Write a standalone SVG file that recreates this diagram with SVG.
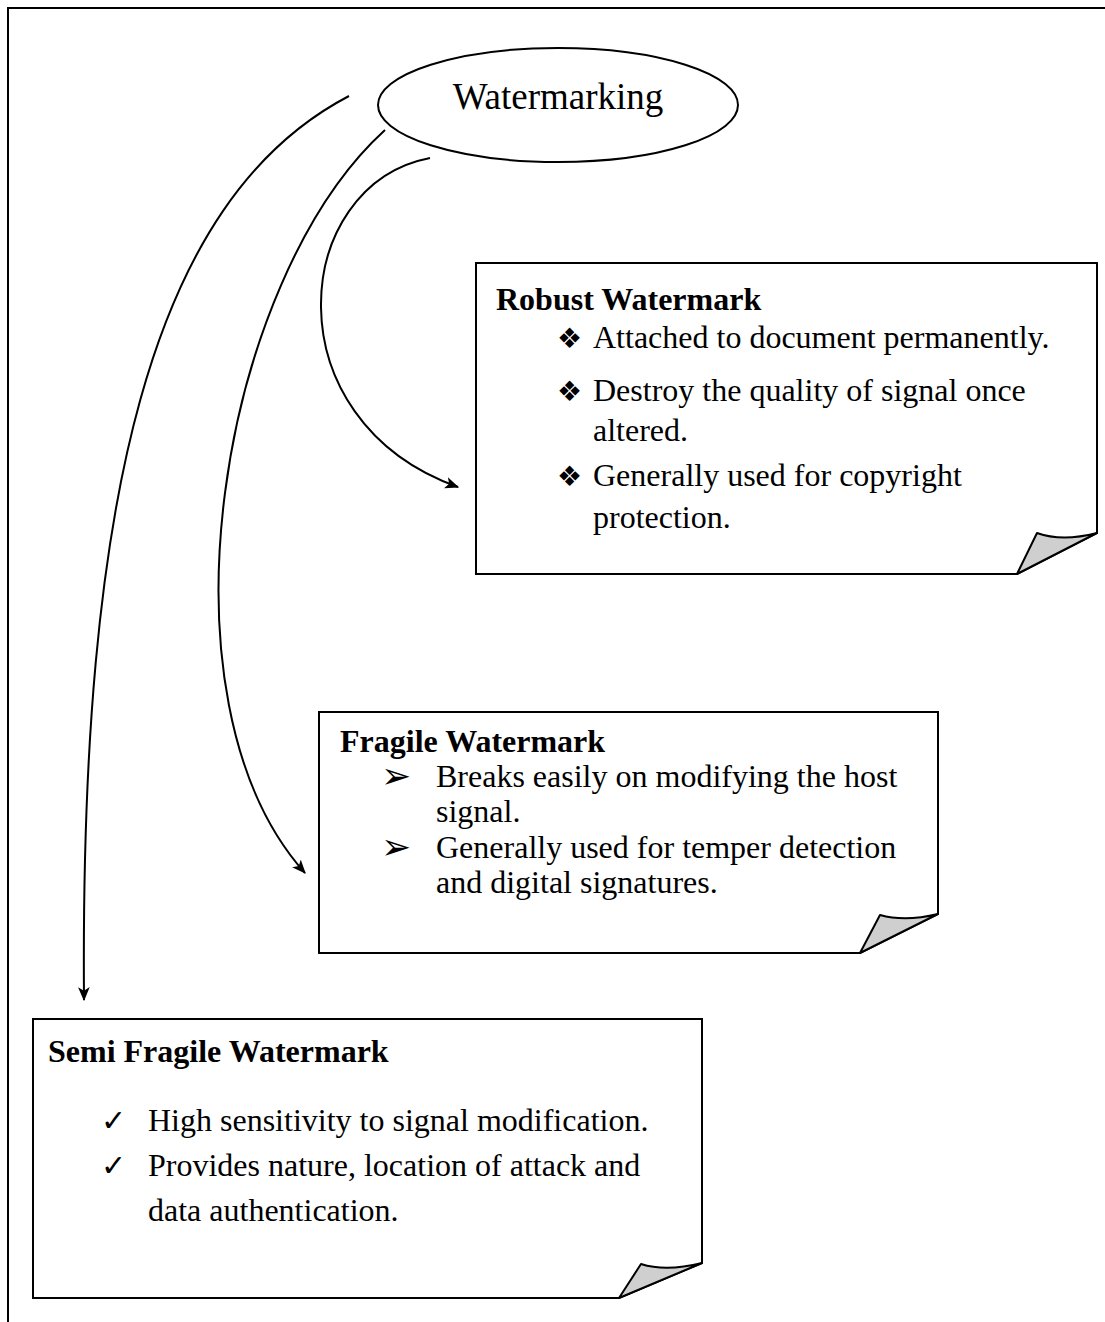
<svg xmlns="http://www.w3.org/2000/svg" width="1105" height="1322" viewBox="0 0 1105 1322">
<style>
.t{font-family:"Liberation Serif","Times New Roman",serif;font-size:32px;fill:#000}
.b{font-weight:bold}
.sym{font-family:"DejaVu Sans",sans-serif;font-size:28px;fill:#000}
.arr{font-family:"DejaVu Sans",sans-serif;font-size:36px;fill:#000}
.box{fill:#fff;stroke:#000;stroke-width:2}
.fold{fill:#cfcfcf;stroke:#000;stroke-width:2;stroke-linejoin:round}
.con{fill:none;stroke:#000;stroke-width:2}
</style>
<defs>
<marker id="ah" viewBox="0 0 12 10" refX="11" refY="5" markerWidth="14" markerHeight="12" markerUnits="userSpaceOnUse" orient="auto">
<path d="M0,0 L12,5 L0,10 L3,5 Z" fill="#000"/>
</marker>
</defs>
<rect width="1105" height="1322" fill="#fff"/>
<path d="M8,1322 V8 H1105" fill="none" stroke="#000" stroke-width="2"/>

<g id="connectors">
<path class="con" d="M349,96 C150,200 80,500 84,1000" marker-end="url(#ah)"/>
<path class="con" d="M385,130 C220,280 150,700 305,873" marker-end="url(#ah)"/>
<path class="con" d="M430,158 C290,185 270,420 458,487" marker-end="url(#ah)"/>
</g>

<g id="watermarking">
<ellipse cx="558" cy="105" rx="180" ry="57" fill="#fff" stroke="#000" stroke-width="2"/>
<text class="t" x="558" y="109" text-anchor="middle" style="font-size:37px">Watermarking</text>
</g>

<g id="robust">
<path class="box" d="M476,263 H1097 V533 L1017,574 H476 Z"/>
<path class="fold" d="M1017,574 L1037,533 Q1062,542 1097,533 Z"/>
<text class="t b" x="496" y="310">Robust Watermark</text>
<text class="sym" x="557" y="348">❖</text>
<text class="t" x="593" y="348">Attached to document permanently.</text>
<text class="sym" x="557" y="401">❖</text>
<text class="t" x="593" y="401">Destroy the quality of signal once</text>
<text class="t" x="593" y="441">altered.</text>
<text class="sym" x="557" y="486">❖</text>
<text class="t" x="593" y="486">Generally used for copyright</text>
<text class="t" x="593" y="528">protection.</text>
</g>

<g id="fragile">
<path class="box" d="M319,712 H938 V914 L860,953 H319 Z"/>
<path class="fold" d="M860,953 L880,915 Q905,922 938,914 Z"/>
<text class="t b" x="340" y="752">Fragile Watermark</text>
<text class="arr" x="381" y="788">➢</text>
<text class="t" x="436" y="787">Breaks easily on modifying the host</text>
<text class="t" x="436" y="822">signal.</text>
<text class="arr" x="381" y="859">➢</text>
<text class="t" x="436" y="858">Generally used for temper detection</text>
<text class="t" x="436" y="893">and digital signatures.</text>
</g>

<g id="semi">
<path class="box" d="M33,1019 H702 V1263 L619,1298 H33 Z"/>
<path class="fold" d="M619,1298 L641,1264 Q666,1272 702,1263 Z"/>
<text class="t b" x="48" y="1062">Semi Fragile Watermark</text>
<text class="sym" x="101" y="1131" style="font-size:30px">✓</text>
<text class="t" x="148" y="1131">High sensitivity to signal modification.</text>
<text class="sym" x="101" y="1176" style="font-size:30px">✓</text>
<text class="t" x="148" y="1176">Provides nature, location of attack and</text>
<text class="t" x="148" y="1221">data authentication.</text>
</g>
</svg>
